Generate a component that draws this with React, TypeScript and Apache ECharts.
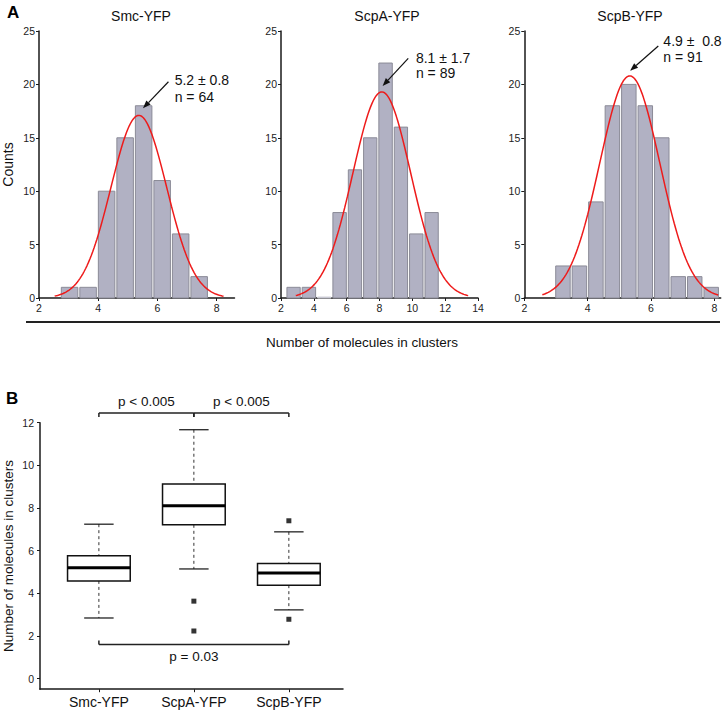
import React, { useEffect, useRef } from 'react';
import * as echarts from 'echarts';

// ---------- Panel A: histograms ----------
const histTitles = ['Smc-YFP', 'ScpA-YFP', 'ScpB-YFP'];
const smcEdges = [2.72, 3.345, 3.97, 4.595, 5.22, 5.845, 6.47, 7.095, 7.72];
const smcCounts = [1, 1, 10, 15, 18, 11, 6, 2];
const scpAEdges = [2.3, 3.23, 4.17, 5.1, 6.04, 6.97, 7.9, 8.84, 9.77, 10.71, 11.64];
const scpACounts = [1, 1, 0, 8, 12, 15, 22, 16, 6, 8];
const scpBEdges = [2.96, 3.48, 4.0, 4.52, 5.04, 5.56, 6.08, 6.6, 7.12, 7.64, 8.16];
const scpBCounts = [3, 3, 9, 18, 20, 18, 15, 2, 2, 1];

const histEdges = [smcEdges, scpAEdges, scpBEdges];
const histCounts = [smcCounts, scpACounts, scpBCounts];

// Gaussian fit parameters (as drawn)
const fitMean = [5.37, 8.14, 5.33];
const fitSigma = [0.94, 1.76, 0.95];
const fitPeak = [17.1, 19.3, 20.8];
const fitFrom = [2.53, 2.9, 2.57];
const fitTo = [8.23, 13.4, 8.12];

const annotLine1 = ['5.2 \u00b1 0.8', '8.1 \u00b1 1.7', '4.9 \u00b1  0.8'];
const annotLine2 = ['n = 64', 'n = 89', 'n = 91'];
// [textX, line1Y, line2Y, arrowFromX, arrowFromY, arrowToX, arrowToY] in data units
const annotPos = [
  [6.58, 20.4, 18.8, 6.37, 20.25, 5.51, 17.76],
  [10.22, 22.47, 21.07, 9.75, 22.44, 8.19, 19.85],
  [6.39, 24.06, 22.57, 6.23, 23.6, 5.34, 21.28],
];

const histXMax = [8.6, 14, 8.2];
const histXTicks = [
  [2, 4, 6, 8],
  [2, 4, 6, 8, 10, 12, 14],
  [2, 4, 6, 8],
];
const countMax = 25;

// ---------- Panel B: box plots ----------
const boxCategories = ['Smc-YFP', 'ScpA-YFP', 'ScpB-YFP'];
const whiskerLow = [2.84, 5.14, 3.22];
const quart1 = [4.58, 7.21, 4.38];
const medians = [5.2, 8.11, 4.95];
const quart3 = [5.76, 9.13, 5.4];
const whiskerHigh = [7.24, 11.67, 6.88];
const outliers = [
  [2, 3.63],
  [2, 2.23],
  [3, 7.4],
  [3, 2.78],
];
const boxYTicks = [0, 2, 4, 6, 8, 10, 12];
const bracketFrom = [1, 2, 1];
const bracketTo = [2, 3, 3];
const bracketY = [12.45, 12.45, 1.6];
const bracketSide = [1, 1, -1]; // 1 = label above, ticks down
const bracketLabels = ['p < 0.005', 'p < 0.005', 'p = 0.03'];

const FONT = 'Liberation Sans, Arial, Helvetica, sans-serif';
const AXIS = '#1a1a1a';

export default function App() {
  const ref = useRef<HTMLDivElement>(null);

  useEffect(() => {
    document.body.style.margin = '0';
    if (!ref.current) return;
    const chart = echarts.init(ref.current, undefined, { renderer: 'svg' });

    const histLeft = [36.5, 281, 524.3];
    const histWidth = [198, 197, 196.4];

    const grids: any[] = histLeft.map((l, i) => ({
      left: l,
      top: 31,
      width: histWidth[i],
      height: 267,
    }));
    grids.push({ left: 37, top: 422.7, width: 306, height: 266.5 });

    const axisLabelBase = { fontSize: 10.5, color: '#222', fontFamily: FONT };

    const xAxes: any[] = histXMax.map((mx, i) => ({
      type: 'value',
      gridIndex: i,
      min: 2,
      max: mx,
      axisLine: { show: true, onZero: false, lineStyle: { color: AXIS, width: 1.5 } },
      axisTick: { show: true, length: 3, customValues: histXTicks[i], lineStyle: { color: AXIS } },
      axisLabel: { ...axisLabelBase, margin: 4, customValues: histXTicks[i] },
      splitLine: { show: false },
    }));
    xAxes.push({
      type: 'value',
      gridIndex: 3,
      min: 0.38,
      max: 3.57,
      axisLine: { show: true, onZero: false, lineStyle: { color: AXIS, width: 1.5 } },
      axisTick: { show: true, length: 3, customValues: [1, 2, 3], lineStyle: { color: AXIS } },
      axisLabel: {
        fontSize: 14,
        color: '#111',
        fontFamily: FONT,
        margin: 6,
        customValues: [1, 2, 3],
        formatter: (v: number) => boxCategories[Math.round(v) - 1] ?? '',
      },
      splitLine: { show: false },
    });

    const yAxes: any[] = histXMax.map((_, i) => ({
      type: 'value',
      gridIndex: i,
      min: 0,
      max: countMax,
      interval: 5,
      name: i === 0 ? 'Counts' : '',
      nameLocation: 'middle',
      nameGap: 24,
      nameTextStyle: { fontSize: 14, color: '#111', fontFamily: FONT },
      axisLine: { show: true, lineStyle: { color: AXIS, width: 1.5 } },
      axisTick: { show: true, length: 3, lineStyle: { color: AXIS } },
      axisLabel: { ...axisLabelBase, margin: 4 },
      splitLine: { show: false },
    }));
    yAxes.push({
      type: 'value',
      gridIndex: 3,
      min: -0.5,
      max: 12,
      name: 'Number of molecules in clusters',
      nameLocation: 'middle',
      nameGap: 25,
      nameTextStyle: { fontSize: 13.5, color: '#111', fontFamily: FONT },
      axisLine: { show: true, lineStyle: { color: AXIS, width: 1.5 } },
      axisTick: { show: true, length: 3, customValues: boxYTicks, lineStyle: { color: AXIS } },
      axisLabel: { ...axisLabelBase, margin: 6, customValues: boxYTicks },
      splitLine: { show: false },
    });

    const series: any[] = [];

    histCounts.forEach((counts, i) => {
      const edges = histEdges[i];
      const data = counts.map((c, j) => [edges[j], edges[j + 1], c]);
      series.push({
        type: 'custom',
        xAxisIndex: i,
        yAxisIndex: i,
        encode: { x: [0, 1], y: 2 },
        data,
        renderItem: (params: any, api: any) => {
          const p0 = api.coord([api.value(0), api.value(2)]);
          const p1 = api.coord([api.value(1), 0]);
          const h = p1[1] - p0[1];
          return {
            type: 'rect',
            shape: {
              x: p0[0] + 1,
              y: h > 0 ? p0[1] : p1[1] - 1,
              width: p1[0] - p0[0] - 2,
              height: h > 0 ? h : 1,
            },
            style: { fill: '#b1b1c3', stroke: h > 0 ? '#8b8b97' : '#d0d0d8', lineWidth: 1 },
          };
        },
      });

      // Gaussian fit curve from its fitted parameters
      const curve: number[][] = [];
      const steps = 120;
      for (let k = 0; k <= steps; k++) {
        const x = fitFrom[i] + ((fitTo[i] - fitFrom[i]) * k) / steps;
        const y = fitPeak[i] * Math.exp(-((x - fitMean[i]) ** 2) / (2 * fitSigma[i] ** 2));
        curve.push([x, y]);
      }
      series.push({
        type: 'line',
        xAxisIndex: i,
        yAxisIndex: i,
        data: curve,
        showSymbol: false,
        symbol: 'none',
        lineStyle: { color: '#ee1b1b', width: 1.5 },
        z: 5,
      });

      // annotation with arrow
      series.push({
        type: 'custom',
        xAxisIndex: i,
        yAxisIndex: i,
        encode: { x: 0, y: 1 },
        data: [annotPos[i]],
        z: 6,
        renderItem: (params: any, api: any) => {
          const t1 = api.coord([api.value(0), api.value(1)]);
          const t2 = api.coord([api.value(0), api.value(2)]);
          const a0 = api.coord([api.value(3), api.value(4)]);
          const a1 = api.coord([api.value(5), api.value(6)]);
          const dx = a1[0] - a0[0];
          const dy = a1[1] - a0[1];
          const L = Math.hypot(dx, dy);
          const ux = dx / L;
          const uy = dy / L;
          const base = [a1[0] - ux * 8, a1[1] - uy * 8];
          const left = [base[0] - uy * 3, base[1] + ux * 3];
          const right = [base[0] + uy * 3, base[1] - ux * 3];
          const ts = {
            fill: '#111',
            fontSize: 14,
            fontFamily: FONT,
            align: 'left',
            verticalAlign: 'middle',
          };
          return {
            type: 'group',
            children: [
              {
                type: 'line',
                shape: { x1: a0[0], y1: a0[1], x2: base[0], y2: base[1] },
                style: { stroke: '#111', lineWidth: 1.2 },
              },
              {
                type: 'polygon',
                shape: { points: [a1, left, right] },
                style: { fill: '#111' },
              },
              { type: 'text', x: t1[0], y: t1[1], style: { ...ts, text: annotLine1[i] } },
              { type: 'text', x: t2[0], y: t2[1], style: { ...ts, text: annotLine2[i] } },
            ],
          };
        },
      });
    });

    // Box plots
    const boxData = boxCategories.map((_, i) => [
      i + 1,
      whiskerLow[i],
      quart1[i],
      medians[i],
      quart3[i],
      whiskerHigh[i],
    ]);
    series.push({
      type: 'custom',
      xAxisIndex: 3,
      yAxisIndex: 3,
      encode: { x: 0, y: [1, 5] },
      data: boxData,
      renderItem: (params: any, api: any) => {
        const x = api.value(0);
        const c = (v: number) => api.coord([x, v]);
        const boxW = api.size([0.66, 0])[0];
        const capW = api.size([0.31, 0])[0];
        const pl = c(api.value(1));
        const p1 = c(api.value(2));
        const pm = c(api.value(3));
        const p3 = c(api.value(4));
        const ph = c(api.value(5));
        const cx = pl[0];
        const dash = { stroke: '#333', lineWidth: 1, lineDash: [3, 3] };
        const solid = { stroke: '#111', lineWidth: 1.2 };
        return {
          type: 'group',
          children: [
            { type: 'line', shape: { x1: cx, y1: ph[1], x2: cx, y2: p3[1] }, style: dash },
            { type: 'line', shape: { x1: cx, y1: p1[1], x2: cx, y2: pl[1] }, style: dash },
            { type: 'line', shape: { x1: cx - capW / 2, y1: ph[1], x2: cx + capW / 2, y2: ph[1] }, style: solid },
            { type: 'line', shape: { x1: cx - capW / 2, y1: pl[1], x2: cx + capW / 2, y2: pl[1] }, style: solid },
            {
              type: 'rect',
              shape: { x: cx - boxW / 2, y: p3[1], width: boxW, height: p1[1] - p3[1] },
              style: { fill: '#fff', stroke: '#111', lineWidth: 1.5 },
            },
            {
              type: 'line',
              shape: { x1: cx - boxW / 2, y1: pm[1], x2: cx + boxW / 2, y2: pm[1] },
              style: { stroke: '#000', lineWidth: 3 },
            },
          ],
        };
      },
    });

    series.push({
      type: 'scatter',
      xAxisIndex: 3,
      yAxisIndex: 3,
      data: outliers,
      symbol: 'rect',
      symbolSize: 5,
      itemStyle: { color: '#000' },
    });

    // significance brackets
    series.push({
      type: 'custom',
      xAxisIndex: 3,
      yAxisIndex: 3,
      encode: { x: [0, 1], y: 2 },
      data: bracketFrom.map((f, i) => [f, bracketTo[i], bracketY[i], bracketSide[i]]),
      renderItem: (params: any, api: any) => {
        const a = api.coord([api.value(0), api.value(2)]);
        const b = api.coord([api.value(1), api.value(2)]);
        const side = api.value(3);
        const tick = 4 * side;
        const st = { stroke: '#222', lineWidth: 1.5 };
        return {
          type: 'group',
          children: [
            { type: 'line', shape: { x1: a[0], y1: a[1], x2: b[0], y2: b[1] }, style: st },
            { type: 'line', shape: { x1: a[0], y1: a[1], x2: a[0], y2: a[1] + tick }, style: st },
            { type: 'line', shape: { x1: b[0], y1: b[1], x2: b[0], y2: b[1] + tick }, style: st },
            {
              type: 'text',
              x: (a[0] + b[0]) / 2,
              y: a[1] - 12 * side,
              style: {
                text: bracketLabels[params.dataIndex],
                fill: '#111',
                fontSize: 13.5,
                fontFamily: FONT,
                align: 'center',
                verticalAlign: 'middle',
              },
            },
          ],
        };
      },
    });

    const titleCenters = [141, 387, 630];
    const graphic: any[] = [
      {
        type: 'text',
        left: 7,
        top: 4,
        style: { text: 'A', fontSize: 17, fontWeight: 'bold', fontFamily: FONT, fill: '#000' },
      },
      {
        type: 'text',
        left: 6,
        top: 390,
        style: { text: 'B', fontSize: 17, fontWeight: 'bold', fontFamily: FONT, fill: '#000' },
      },
      ...histTitles.map((t, i) => ({
        type: 'text',
        x: titleCenters[i],
        y: 16,
        style: {
          text: t,
          fontSize: 14,
          fontFamily: FONT,
          fill: '#111',
          align: 'center',
          verticalAlign: 'middle',
        },
      })),
      {
        type: 'line',
        shape: { x1: 26, y1: 322, x2: 720, y2: 322 },
        style: { stroke: '#222', lineWidth: 2 },
      },
      {
        type: 'text',
        x: 362,
        y: 342,
        style: {
          text: 'Number of molecules in clusters',
          fontSize: 13.5,
          fontFamily: FONT,
          fill: '#111',
          align: 'center',
          verticalAlign: 'middle',
        },
      },
    ];

    chart.setOption({
      animation: false,
      backgroundColor: '#fff',
      textStyle: { fontFamily: FONT },
      grid: grids,
      xAxis: xAxes,
      yAxis: yAxes,
      series,
      graphic,
    });

    return () => chart.dispose();
  }, []);

  return <div ref={ref} style={{ width: 724, height: 714 }} />;
}
